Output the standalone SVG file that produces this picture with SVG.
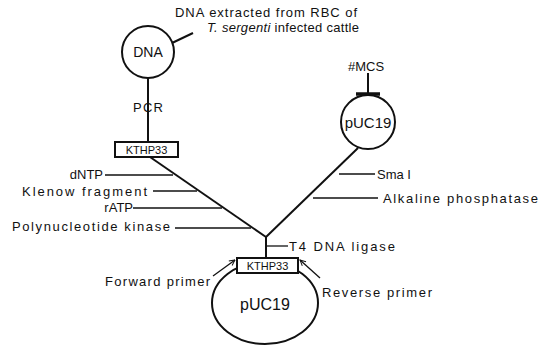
<svg xmlns="http://www.w3.org/2000/svg" width="555" height="349" viewBox="0 0 555 349">
<style>
text{font-family:"Liberation Sans",Arial,sans-serif;fill:#111;}
.t{font-size:13px;}
.main{stroke:#111;stroke-width:2;fill:none;}
.lead{stroke:#111;stroke-width:1.3;fill:none;}
.box{fill:#fff;stroke:#111;stroke-width:2;}
.node{fill:#fff;stroke:#111;stroke-width:2;}
</style>
<defs>
<marker id="arr" viewBox="0 0 10 10" refX="9" refY="5" markerWidth="7" markerHeight="7" orient="auto" markerUnits="userSpaceOnUse">
<path d="M1,1 L9,5 L1,9" fill="none" stroke="#111" stroke-width="1.4"/>
</marker>
</defs>
<rect width="555" height="349" fill="#fff"/>
<g id="connectors">
<line class="main" x1="148" y1="78" x2="148" y2="142"/>
<line class="main" x1="172" y1="43" x2="193" y2="33"/>
<line class="main" x1="150" y1="157" x2="266" y2="237"/>
<line class="main" x1="266" y1="237" x2="358" y2="148"/>
<line class="main" x1="266" y1="237" x2="266" y2="258"/>
<line class="main" x1="368" y1="73" x2="368" y2="94"/>
<line class="lead" x1="105" y1="175" x2="173" y2="175"/>
<line class="lead" x1="153" y1="191" x2="197" y2="191"/>
<line class="lead" x1="133" y1="208" x2="222" y2="208"/>
<line class="lead" x1="175" y1="228" x2="251" y2="228"/>
<line class="lead" x1="339" y1="174" x2="375" y2="174"/>
<line class="lead" x1="313" y1="198" x2="378" y2="198"/>
<line class="lead" x1="267" y1="246" x2="288" y2="246"/>
<line class="lead" x1="213" y1="276" x2="235" y2="260" marker-end="url(#arr)"/>
<line class="lead" x1="320" y1="278" x2="300" y2="260" marker-end="url(#arr)"/>
</g>
<g id="source-text">
<text class="t" x="175" y="17" font-size="14" textLength="182" lengthAdjust="spacing">DNA extracted from RBC of</text>
<text class="t" x="207" y="32" font-size="14" textLength="152" lengthAdjust="spacing"><tspan font-style="italic">T. sergenti</tspan> infected cattle</text>
</g>
<g id="dna">
<circle class="node" cx="148" cy="52" r="26"/>
<text x="148" y="57" font-size="14" text-anchor="middle">DNA</text>
</g>
<g id="pcr">
<text x="148" y="112" font-size="13" text-anchor="middle" textLength="30" lengthAdjust="spacing">PCR</text>
</g>
<g id="kthp33-top">
<rect class="box" x="115" y="142" width="63" height="15"/>
<text x="146.5" y="154" font-size="11" text-anchor="middle">KTHP33</text>
</g>
<g id="left-labels">
<text class="t" x="103" y="179" text-anchor="end">dNTP</text>
<text class="t" x="147" y="196" text-anchor="end" textLength="125" lengthAdjust="spacing">Klenow fragment</text>
<text class="t" x="133" y="212" text-anchor="end">rATP</text>
<text class="t" x="170" y="231" text-anchor="end" textLength="158" lengthAdjust="spacing">Polynucleotide kinase</text>
</g>
<g id="puc19-small">
<circle class="node" cx="368" cy="122" r="27"/>
<line x1="356" y1="94" x2="380" y2="94" stroke="#111" stroke-width="3.5"/>
<text x="368" y="128" font-size="15" text-anchor="middle">pUC19</text>
</g>
<g id="mcs">
<text class="t" x="366" y="71" text-anchor="middle">#MCS</text>
</g>
<g id="right-labels">
<text class="t" x="377" y="179">Sma  I</text>
<text class="t" x="383" y="203" textLength="155" lengthAdjust="spacing">Alkaline phosphatase</text>
<text class="t" x="289" y="251" textLength="106" lengthAdjust="spacing">T4 DNA ligase</text>
</g>
<g id="puc19-insert">
<ellipse class="node" cx="265" cy="303" rx="53" ry="41"/>
<rect class="box" x="237" y="258" width="61" height="15"/>
<text x="267.5" y="270" font-size="11" text-anchor="middle">KTHP33</text>
<text x="265" y="310" font-size="16" text-anchor="middle">pUC19</text>
</g>
<g id="primers">
<text class="t" x="210" y="286" text-anchor="end" textLength="105" lengthAdjust="spacing">Forward primer</text>
<text class="t" x="322" y="297" textLength="110" lengthAdjust="spacing">Reverse primer</text>
</g>
</svg>
